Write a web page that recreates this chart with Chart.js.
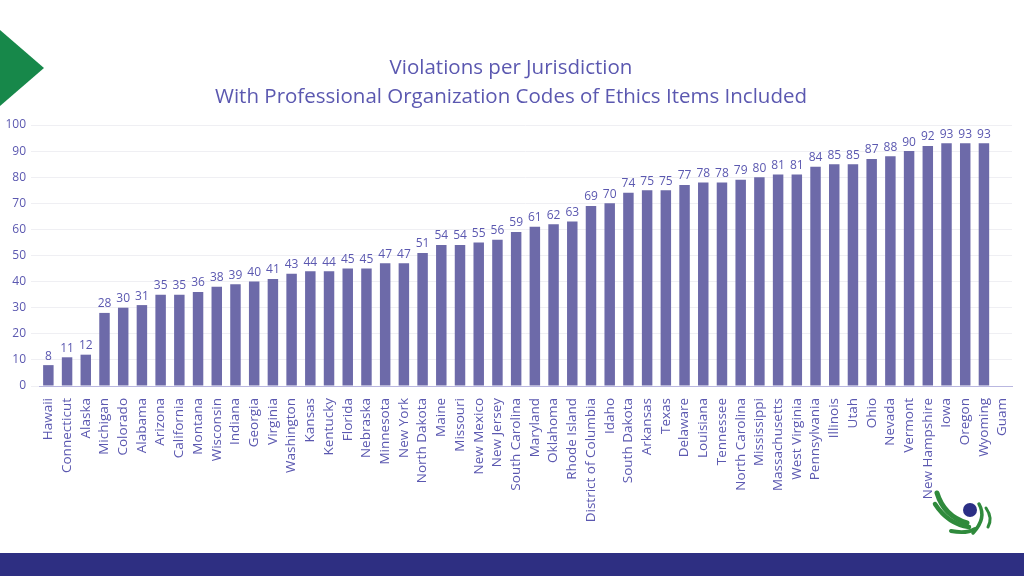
<!DOCTYPE html>
<html>
<head>
<meta charset="utf-8">
<script src="https://cdn.jsdelivr.net/npm/chart.js@4"></script>
<style>
  html, body { margin: 0; padding: 0; background: #fff; }
  #wrap { width: 1024px; height: 576px; position: relative; }
</style>
</head>
<body>
<div id="wrap"><canvas id="grafico" width="1024" height="576"></canvas></div>
<script>
// Datos
const jurisdicciones = ['Hawaii', 'Connecticut', 'Alaska', 'Michigan', 'Colorado', 'Alabama', 'Arizona',
  'California', 'Montana', 'Wisconsin', 'Indiana', 'Georgia', 'Virginia', 'Washington', 'Kansas',
  'Kentucky', 'Florida', 'Nebraska', 'Minnesota', 'New York', 'North Dakota', 'Maine', 'Missouri',
  'New Mexico', 'New Jersey', 'South Carolina', 'Maryland', 'Oklahoma', 'Rhode Island',
  'District of Columbia', 'Idaho', 'South Dakota', 'Arkansas', 'Texas', 'Delaware', 'Louisiana',
  'Tennessee', 'North Carolina', 'Mississippi', 'Massachusetts', 'West Virginia', 'Pennsylvania',
  'Illinois', 'Utah', 'Ohio', 'Nevada', 'Vermont', 'New Hampshire', 'Iowa', 'Oregon', 'Wyoming', 'Guam'];
const violaciones = [8, 11, 12, 28, 30, 31, 35, 35, 36, 38, 39, 40, 41, 43, 44, 44, 45, 45, 47, 47, 51,
  54, 54, 55, 56, 59, 61, 62, 63, 69, 70, 74, 75, 75, 77, 78, 78, 79, 80, 81, 81, 84, 85, 85, 87, 88,
  90, 92, 93, 93, 93, null];
const ticksY = [0, 10, 20, 30, 40, 50, 60, 70, 80, 90, 100];
const titulo = ['Violations per Jurisdiction', 'With Professional Organization Codes of Ethics Items Included'];

const morado = '#5b58b0';
const FUENTE = "'Open Sans', 'Noto Sans', sans-serif";

// etiquetas de valor encima de las barras
const etiquetasValor = {
  id: 'etiquetasValor',
  afterDatasetsDraw(chart) {
    const ctx = chart.ctx;
    const meta = chart.getDatasetMeta(0);
    ctx.save();
    ctx.fillStyle = morado;
    ctx.font = '12px ' + FUENTE;
    ctx.textAlign = 'center';
    ctx.textBaseline = 'bottom';
    meta.data.forEach((bar, i) => {
      const v = violaciones[i];
      if (v == null) return;
      ctx.fillText(v, bar.x, bar.y - 3);
    });
    ctx.restore();
  }
};

// adornos de la diapositiva: triangulo, franja inferior, logo
const adornos = {
  id: 'adornos',
  beforeDraw(chart) {
    const ctx = chart.ctx;
    ctx.save();
    ctx.fillStyle = '#fff';
    ctx.fillRect(0, 0, 1024, 576);
    ctx.fillStyle = '#17884a';
    ctx.beginPath();
    ctx.moveTo(0, 30); ctx.lineTo(44, 68); ctx.lineTo(0, 106); ctx.closePath();
    ctx.fill();
    ctx.fillStyle = '#2e2f82';
    ctx.fillRect(0, 553, 1024, 23);
    ctx.restore();
  },
  afterDraw(chart) {
    const ctx = chart.ctx;
    ctx.save();
    // logo
    ctx.strokeStyle = '#2f8a3c';
    ctx.lineCap = 'round';
    const trazos = [
      [937, 493, 944, 516, 967, 523, 5],
      [935, 504, 948, 524, 969, 527, 4.5],
      [951, 531, 966, 534, 975, 529, 4],
      [979, 504, 987, 518, 973, 533, 3.5],
      [986, 508, 993, 518, 988, 527, 3]
    ];
    trazos.forEach(t => {
      ctx.lineWidth = t[6];
      ctx.beginPath();
      ctx.moveTo(t[0], t[1]);
      ctx.quadraticCurveTo(t[2], t[3], t[4], t[5]);
      ctx.stroke();
    });
    ctx.fillStyle = '#2b2f85';
    ctx.beginPath();
    ctx.arc(970, 510, 7, 0, Math.PI * 2);
    ctx.fill();
    // titulo
    ctx.fillStyle = morado;
    ctx.font = '20.5px ' + FUENTE;
    ctx.textAlign = 'center';
    ctx.textBaseline = 'middle';
    ctx.fillText(titulo[0], 511, 68);
    ctx.fillText(titulo[1], 511, 97);
    ctx.restore();
  }
};

new Chart(document.getElementById('grafico'), {
  type: 'bar',
  data: {
    labels: jurisdicciones,
    datasets: [{
      data: violaciones,
      backgroundColor: '#6d6aa9',
      barPercentage: 0.56,
      categoryPercentage: 1
    }]
  },
  options: {
    responsive: false,
    animation: false,
    layout: { padding: { top: 125, right: 12, left: 0, bottom: 0 } },
    plugins: {
      legend: { display: false },
      tooltip: { enabled: false },
      title: { display: false }
    },
    scales: {
      x: {
        grid: { display: false },
        border: { color: '#b9b7e0' },
        ticks: {
          color: morado,
          font: { size: 13.5, family: FUENTE },
          autoSkip: false,
          minRotation: 90,
          maxRotation: 90,
          padding: 4
        },
        afterFit(s) { s.height = 190; }
      },
      y: {
        min: 0,
        max: 100,
        afterBuildTicks(s) { s.ticks = ticksY.map(v => ({ value: v })); },
        grid: { color: '#efeff3' },
        border: { display: false },
        ticks: {
          color: morado,
          font: { size: 12, family: FUENTE },
          padding: 5
        },
        afterFit(s) { s.width = 39; }
      }
    }
  },
  plugins: [adornos, etiquetasValor]
});
</script>
</body>
</html>
